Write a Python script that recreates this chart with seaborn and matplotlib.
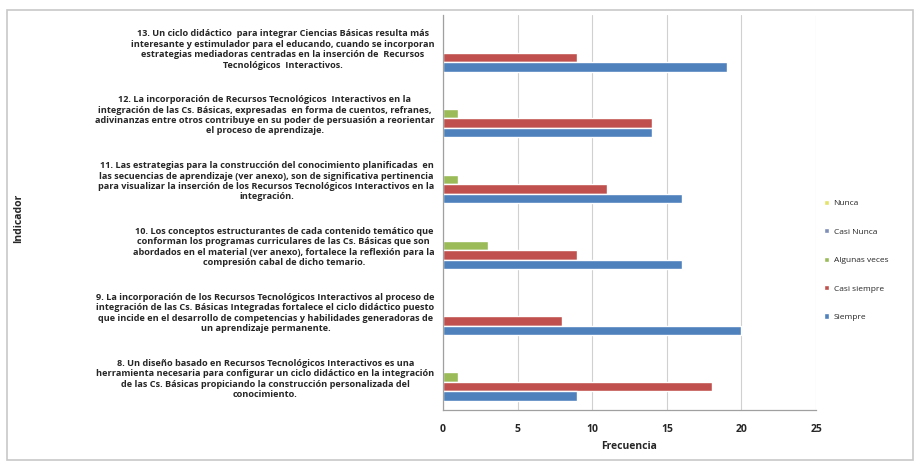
import matplotlib
matplotlib.use("Agg")
import matplotlib.pyplot as plt
from matplotlib.patches import Rectangle
import numpy as np
import pandas as pd
import seaborn as sns

# ── data ────────────────────────────────────────────────────────────────
INDICATORS = [
    "13. Un ciclo didáctico  para integrar Ciencias Básicas resulta más\n"
    "interesante y estimulador para el educando, cuando se incorporan\n"
    "estrategias mediadoras centradas en la inserción de  Recursos\n"
    "Tecnológicos  Interactivos.",
    "12. La incorporación de Recursos Tecnológicos  Interactivos en la\n"
    "integración de las Cs. Básicas, expresadas  en forma de cuentos, refranes,\n"
    "adivinanzas entre otros contribuye en su poder de persuasión a reorientar\n"
    "el proceso de aprendizaje.",
    "11. Las estrategias para la construcción del conocimiento planificadas  en\n"
    "las secuencias de aprendizaje (ver anexo), son de significativa pertinencia\n"
    "para visualizar la inserción de los Recursos Tecnológicos Interactivos en la\n"
    "integración.",
    "10. Los conceptos estructurantes de cada contenido temático que\n"
    "conforman los programas curriculares de las Cs. Básicas que son\n"
    "abordados en el material (ver anexo), fortalece la reflexión para la\n"
    "compresión cabal de dicho temario.",
    "9. La incorporación de los Recursos Tecnológicos Interactivos al proceso de\n"
    "integración de las Cs. Básicas Integradas fortalece el ciclo didáctico puesto\n"
    "que incide en el desarrollo de competencias y habilidades generadoras de\n"
    "un aprendizaje permanente.",
    "8. Un diseño basado en Recursos Tecnológicos Interactivos es una\n"
    "herramienta necesaria para configurar un ciclo didáctico en la integración\n"
    "de las Cs. Básicas propiciando la construcción personalizada del\n"
    "conocimiento.",
]
SERIES = ["Nunca", "Casi Nunca", "Algunas veces", "Casi siempre", "Siempre"]
NUNCA = [0, 0, 0, 0, 0, 0]
CASI_NUNCA = [0, 0, 0, 0, 0, 0]
ALGUNAS_VECES = [0, 1, 1, 3, 0, 1]
CASI_SIEMPRE = [9, 14, 11, 9, 8, 18]
SIEMPRE = [19, 14, 16, 16, 20, 9]
X_TICKS = [0, 5, 10, 15, 20, 25]

COLORS = {
    "Nunca": "#e3e36a",
    "Casi Nunca": "#7f8fb8",
    "Algunas veces": "#9bbb59",
    "Casi siempre": "#c0504d",
    "Siempre": "#4f81bd",
}

values = {
    "Nunca": NUNCA,
    "Casi Nunca": CASI_NUNCA,
    "Algunas veces": ALGUNAS_VECES,
    "Casi siempre": CASI_SIEMPRE,
    "Siempre": SIEMPRE,
}
df = pd.DataFrame(
    [(ind, s, values[s][i]) for s in SERIES for i, ind in enumerate(INDICATORS)],
    columns=["Indicador", "Serie", "Frecuencia"],
)

sns.set_style("white")
plt.rcParams["font.family"] = ["Open Sans", "DejaVu Sans"]

fig = plt.figure(figsize=(9.19, 4.65), dpi=100)
ax = fig.add_axes([0.482, 0.118, 0.406, 0.85])

sns.barplot(
    data=df, y="Indicador", x="Frecuencia", hue="Serie",
    order=INDICATORS, hue_order=SERIES, palette=COLORS,
    orient="h", width=0.72, gap=0, saturation=1, ax=ax,
)

ax.set_xlim(0, 25)
ax.set_xticks(X_TICKS)
ax.set_xticklabels([str(t) for t in X_TICKS], fontsize=7.5, fontweight="bold")
ax.xaxis.grid(True, color="#d0d0d0", linewidth=0.8)
ax.set_axisbelow(True)
for side in ("top", "right"):
    ax.spines[side].set_visible(False)
for side in ("left", "bottom"):
    ax.spines[side].set_color("#a0a0a0")
    ax.spines[side].set_linewidth(0.9)
ax.tick_params(axis="x", length=3, color="#a0a0a0", pad=7)
ax.tick_params(axis="y", length=0, pad=6)
ax.set_yticks(range(len(INDICATORS)))
ax.set_yticklabels(INDICATORS, fontsize=6.6, fontweight="bold",
                   multialignment="center", linespacing=1.2)
ax.set_ylabel("")
ax.set_xlabel("Frecuencia", fontsize=7.5, fontweight="bold", labelpad=4)

fig.text(0.02, 0.53, "Indicador", rotation=90, fontsize=7.5,
         fontweight="bold", ha="center", va="center")

handles, labels = ax.get_legend_handles_labels()
ax.legend(handles, labels, loc="center left", bbox_to_anchor=(0.888, 0.44),
          bbox_transform=fig.transFigure, frameon=False, fontsize=6,
          handlelength=0.6, handleheight=0.6, handletextpad=0.6,
          labelspacing=2.5)

# chart frame
fig.patches.append(Rectangle((7 / 919, 5 / 465), 906 / 919, 450 / 465,
                             transform=fig.transFigure, fill=False,
                             edgecolor="#c8c8c8", linewidth=1.2))

fig.savefig("out.png", dpi=100)
